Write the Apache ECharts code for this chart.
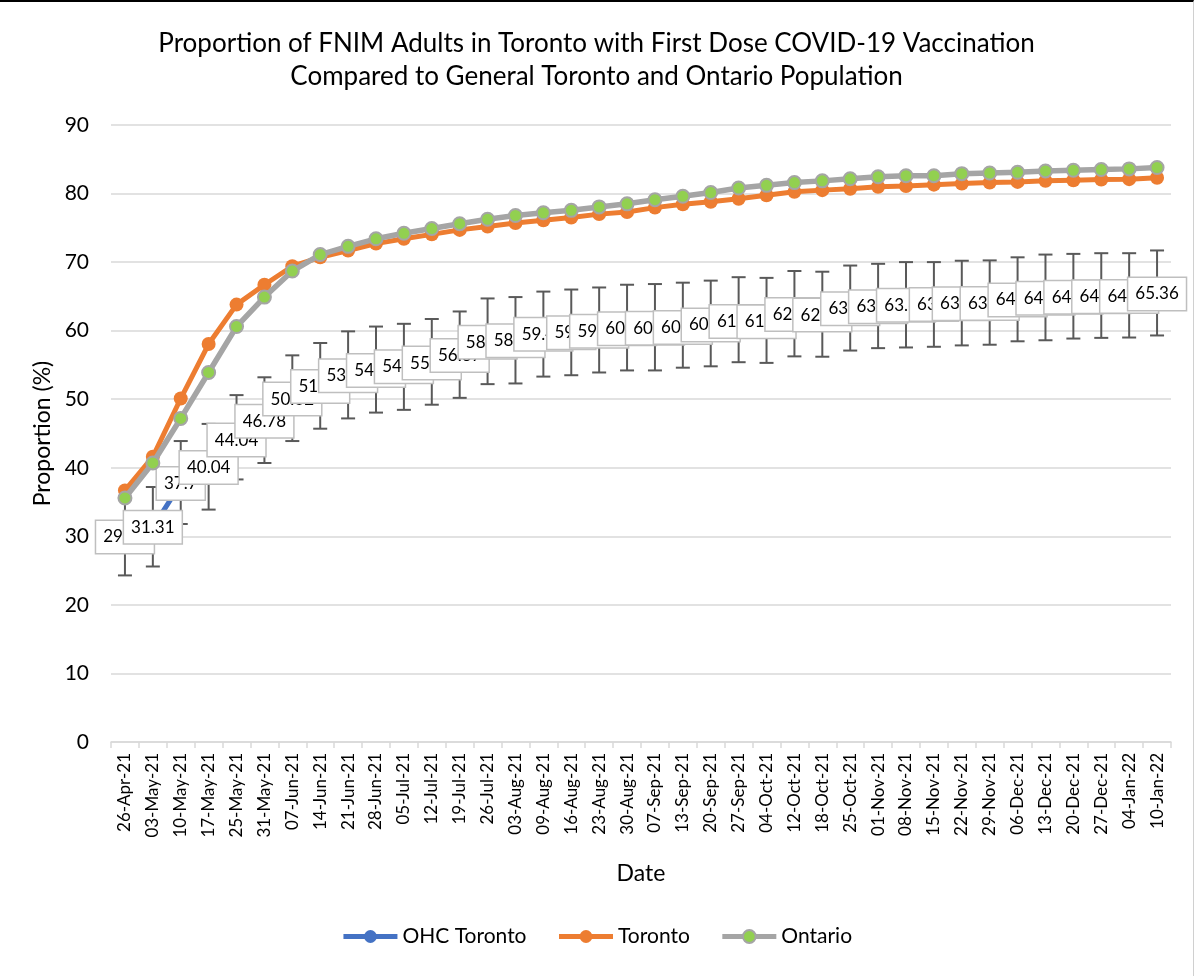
<!DOCTYPE html>
<html>
<head>
<meta charset="utf-8">
<title>FNIM first dose vaccination</title>
<script src="https://cdn.jsdelivr.net/npm/echarts@6/dist/echarts.min.js"></script>
<style>
  html, body { margin: 0; padding: 0; background: #fff; }
  #chart { width: 1193px; height: 974px; border-top: 2px solid #000; border-right: 1px solid #d0d0d0; }
</style>
</head>
<body>
<div id="chart"></div>
<script>
// week labels
const dates = ['26-Apr-21', '03-May-21', '10-May-21', '17-May-21', '25-May-21', '31-May-21', '07-Jun-21',
  '14-Jun-21', '21-Jun-21', '28-Jun-21', '05-Jul-21', '12-Jul-21', '19-Jul-21', '26-Jul-21', '03-Aug-21',
  '09-Aug-21', '16-Aug-21', '23-Aug-21', '30-Aug-21', '07-Sep-21', '13-Sep-21', '20-Sep-21', '27-Sep-21',
  '04-Oct-21', '12-Oct-21', '18-Oct-21', '25-Oct-21', '01-Nov-21', '08-Nov-21', '15-Nov-21', '22-Nov-21',
  '29-Nov-21', '06-Dec-21', '13-Dec-21', '20-Dec-21', '27-Dec-21', '04-Jan-22', '10-Jan-22']

// OHC Toronto (FNIM) estimate + interval ends
const ohcToronto = [29.92, 31.31, 37.7, 40.04, 44.04, 46.78, 50.02, 51.86, 53.42, 54.18, 54.73, 55.28,
  56.37, 58.31, 58.52, 59.46, 59.7, 59.93, 60.28, 60.36, 60.47, 60.84, 61.34, 61.29, 62.36, 62.28,
  63.21, 63.48, 63.69, 63.8, 63.91, 63.97, 64.49, 64.73, 64.89, 64.94, 64.97, 65.36]
const ohcLower = [24.3, 25.6, 31.8, 33.9, 38.3, 40.7, 43.9, 45.7, 47.2, 48.05, 48.45, 49.2, 50.2, 52.2,
  52.3, 53.3, 53.5, 53.9, 54.2, 54.2, 54.6, 54.8, 55.4, 55.3, 56.25, 56.2, 57.1, 57.45, 57.55, 57.65,
  57.85, 57.95, 58.45, 58.6, 58.85, 58.95, 59.0, 59.3]
const ohcUpper = [35.6, 37.2, 43.9, 46.4, 50.6, 53.2, 56.4, 58.2, 59.9, 60.6, 61.0, 61.7, 62.8, 64.7,
  64.9, 65.7, 66.0, 66.3, 66.7, 66.8, 67.0, 67.3, 67.8, 67.7, 68.7, 68.6, 69.5, 69.75, 70.0, 70.0,
  70.2, 70.25, 70.7, 71.1, 71.2, 71.3, 71.3, 71.7]

const toronto = [36.7, 41.6, 50.1, 58.05, 63.8, 66.7, 69.4, 70.7, 71.7, 72.7, 73.4, 74.05, 74.7, 75.2,
  75.7, 76.1, 76.5, 77.0, 77.3, 77.95, 78.45, 78.8, 79.25, 79.75, 80.25, 80.5, 80.7, 81.0, 81.1, 81.3,
  81.45, 81.6, 81.7, 81.85, 81.95, 82.05, 82.1, 82.3]
const ontario = [35.6, 40.7, 47.2, 53.9, 60.6, 64.9, 68.7, 71.1, 72.3, 73.4, 74.2, 74.9, 75.6, 76.25,
  76.8, 77.2, 77.55, 78.05, 78.5, 79.1, 79.6, 80.15, 80.8, 81.2, 81.6, 81.85, 82.15, 82.45, 82.6, 82.6,
  82.9, 83.0, 83.1, 83.3, 83.4, 83.5, 83.6, 83.8]

const yTicks = [0, 10, 20, 30, 40, 50, 60, 70, 80, 90]

const FONT = 'Lato'
const errData = dates.map((d, i) => [i, ohcLower[i], ohcUpper[i]])

const chart = echarts.init(document.getElementById('chart'), null, { renderer: 'canvas' })

const option = {
  animation: false,
  textStyle: { fontFamily: FONT },
  title: {
    text: 'Proportion of FNIM Adults in Toronto with First Dose COVID-19 Vaccination\nCompared to General Toronto and Ontario Population',
    left: 'center',
    top: 20,
    textStyle: { fontFamily: FONT, fontSize: 26, fontWeight: 'normal', color: '#000', lineHeight: 33 },
  },
  grid: {
    left: 111,
    right: 22,
    top: 123,
    bottom: 234, // x labels + axis name live below
  },
  legend: {
    bottom: 24,
    left: 'center',
    itemWidth: 54,
    itemHeight: 16,
    itemGap: 30,
    lineStyle: { width: 5 },
    textStyle: { fontFamily: FONT, fontSize: 21, color: '#000' },
    data: ['OHC Toronto', 'Toronto', 'Ontario'],
  },
  xAxis: {
    type: 'category',
    data: dates,
    boundaryGap: true,
    name: 'Date',
    nameLocation: 'middle',
    nameGap: 120,
    nameTextStyle: { fontFamily: FONT, fontSize: 23, color: '#000' },
    axisLine: { show: true, lineStyle: { color: '#d9d9d9', width: 1.5 } },
    axisTick: { show: true, length: 6, lineStyle: { color: '#d9d9d9', width: 1.5 } },
    axisLabel: { interval: 0, rotate: 90, fontSize: 17, color: '#000', margin: 11, fontFamily: FONT },
    splitLine: { show: false },
  },
  yAxis: {
    type: 'value',
    min: 0,
    max: yTicks[yTicks.length - 1],
    interval: 10,
    name: 'Proportion (%)',
    nameLocation: 'middle',
    nameGap: 57,
    nameRotate: 90,
    nameTextStyle: { fontFamily: FONT, fontSize: 23, color: '#000' },
    axisLine: { show: false },
    axisTick: { show: false },
    axisLabel: { fontSize: 21, color: '#000', margin: 22, fontFamily: FONT },
    splitLine: { lineStyle: { color: '#d9d9d9', width: 1.5 } },
  },
  series: [
    {
      // error bars for OHC Toronto
      type: 'custom',
      name: 'ohc-ci',
      z: 1,
      silent: true,
      data: errData,
      encode: { x: 0, y: [1, 2] },
      renderItem: (params, api) => {
        const x = api.value(0)
        const lo = api.coord([x, api.value(1)])
        const hi = api.coord([x, api.value(2)])
        const half = 7
        const st = { stroke: '#595959', lineWidth: 2 }
        return {
          type: 'group',
          children: [
            { type: 'line', shape: { x1: lo[0], y1: lo[1], x2: hi[0], y2: hi[1] }, style: st },
            { type: 'line', shape: { x1: lo[0] - half, y1: lo[1], x2: lo[0] + half, y2: lo[1] }, style: st },
            { type: 'line', shape: { x1: hi[0] - half, y1: hi[1], x2: hi[0] + half, y2: hi[1] }, style: st },
          ],
        }
      },
    },
    {
      name: 'OHC Toronto',
      type: 'line',
      z: 2,
      data: ohcToronto,
      symbol: 'circle',
      symbolSize: 14,
      itemStyle: { color: '#4472c4' },
      lineStyle: { color: '#4472c4', width: 5 },
      label: {
        show: true,
        position: 'inside',
        fontFamily: FONT,
        fontSize: 17,
        color: '#000',
        backgroundColor: '#fff',
        borderColor: '#bfbfbf',
        borderWidth: 1.5,
        padding: [8, 7, 7, 7],
        formatter: p => String(p.value),
      },
    },
    {
      name: 'Toronto',
      type: 'line',
      z: 3,
      data: toronto,
      symbol: 'circle',
      symbolSize: 14,
      itemStyle: { color: '#ed7d31' },
      lineStyle: { color: '#ed7d31', width: 5 },
    },
    {
      name: 'Ontario',
      type: 'line',
      z: 4,
      data: ontario,
      symbol: 'circle',
      symbolSize: 13,
      itemStyle: { color: '#92d050', borderColor: '#a5a5a5', borderWidth: 2 },
      lineStyle: { color: '#a5a5a5', width: 5.5 },
    },
  ],
}

chart.setOption(option)
</script>
</body>
</html>
